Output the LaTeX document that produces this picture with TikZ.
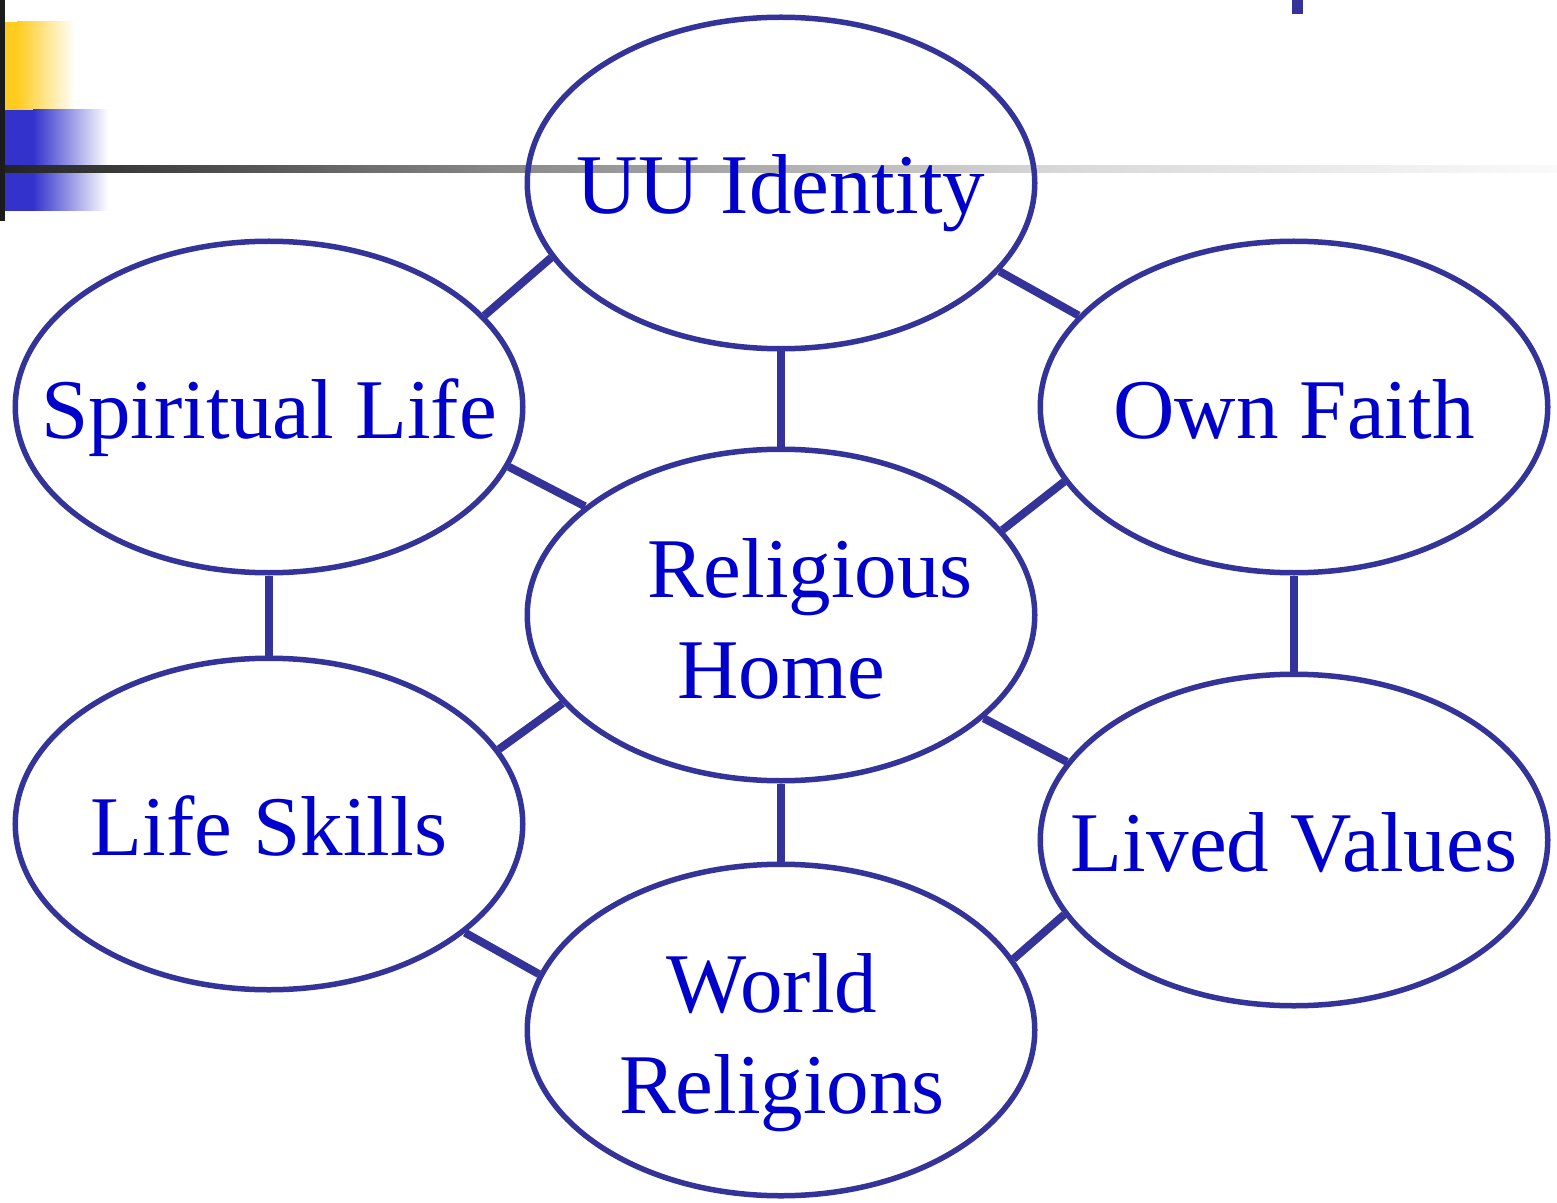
\documentclass[tikz,border=0pt]{standalone}
\usepackage{fontspec}
\setmainfont{Liberation Serif}
\usetikzlibrary{shapes.geometric}
\definecolor{edgeblue}{HTML}{333399}
\definecolor{txtblue}{HTML}{0000CC}
\definecolor{barblack}{HTML}{1C1C1C}
\definecolor{decoyellow}{HTML}{FFCC1F}
\definecolor{decoblue}{HTML}{3333CC}
\definecolor{grayA}{HTML}{222222}
\definecolor{grayB}{HTML}{888888}
\definecolor{grayC}{HTML}{D8D8D8}
\definecolor{grayD}{HTML}{FAFAFA}
\begin{document}
\begin{tikzpicture}[x=0.5pt,y=-0.5pt,
  bubble/.style={ellipse, draw=edgeblue, line width=2.75pt, minimum width=253.75pt, minimum height=165.75pt, inner sep=0pt},
  lbl/.style={text=txtblue, font=\fontsize{42.5}{51}\selectfont, inner sep=0pt, anchor=base},
  link/.style={draw=edgeblue, line width=4pt}]
\useasboundingbox (0,0) rectangle (1557,1203);
% decorations
\fill[decoyellow] (5,22) rectangle (17,110);
\shade[left color=decoyellow, right color=white] (17,22) rectangle (75,110);
\fill[decoblue] (5,110) rectangle (33,211);
\shade[left color=decoblue, right color=white] (33,110) rectangle (108,211);
\shade[left color=grayA, right color=grayB] (0,166) rectangle (500,173);
\shade[left color=grayB, right color=grayC] (499.5,166) rectangle (1060,173);
\shade[left color=grayC, right color=grayD] (1059.5,166) rectangle (1557,173);
\fill[barblack] (0,0) rectangle (5,221);
\fill[edgeblue] (1292,0) rectangle (1303,14);
% ellipses
\node[bubble] (uu) at (781,183) {};
\node[bubble] (sp) at (269,407) {};
\node[bubble] (of) at (1294,407) {};
\node[bubble] (rh) at (781,615) {};
\node[bubble] (ls) at (269,824) {};
\node[bubble] (lv) at (1294,840) {};
\node[bubble] (wr) at (781,1030) {};
% connectors
\draw[link] (uu.198.4) -- (sp.23);
\draw[link] (sp.346.6) -- (rh.151.3);
\draw[link] (uu.338.3) -- (of.157.1);
\draw[link] (rh.21.5) -- (of.198.3);
\draw[link] (rh.202) -- (ls.18.4);
\draw[link] (ls.331.6) -- (wr.167.1);
\draw[link] (rh.333.1) -- (lv.161.7);
\draw[link] (wr.17.75) -- (lv.198.3);
\draw[link] (uu.south) -- (rh.north);
\draw[link] (sp.south) -- (ls.north);
\draw[link] (of.south) -- (lv.north);
\draw[link] (rh.south) -- (wr.north);
% labels
\node[lbl] (uut) at ([yshift=-15.5pt]uu.center) {UU Identity};
\node[lbl] (spt) at ([yshift=-15.5pt]sp.center) {Spiritual Life};
\node[lbl] (oft) at ([yshift=-15.5pt]of.center) {Own Faith};
\node[lbl] (lst) at ([yshift=-15.5pt]ls.center) {Life Skills};
\node[lbl] (lvt) at ([yshift=-15.5pt]lv.center) {Lived Values};
\node[lbl] (rht1) at ([xshift=14.5pt,yshift=9pt]rh.center) {Religious};
\node[lbl] (rht2) at ([yshift=-41.5pt]rh.center) {Home};
\node[lbl] (wrt1) at ([xshift=-4.5pt,yshift=9pt]wr.center) {World};
\node[lbl] (wrt2) at ([xshift=0.5pt,yshift=-41.5pt]wr.center) {Religions};
\end{tikzpicture}
\end{document}
